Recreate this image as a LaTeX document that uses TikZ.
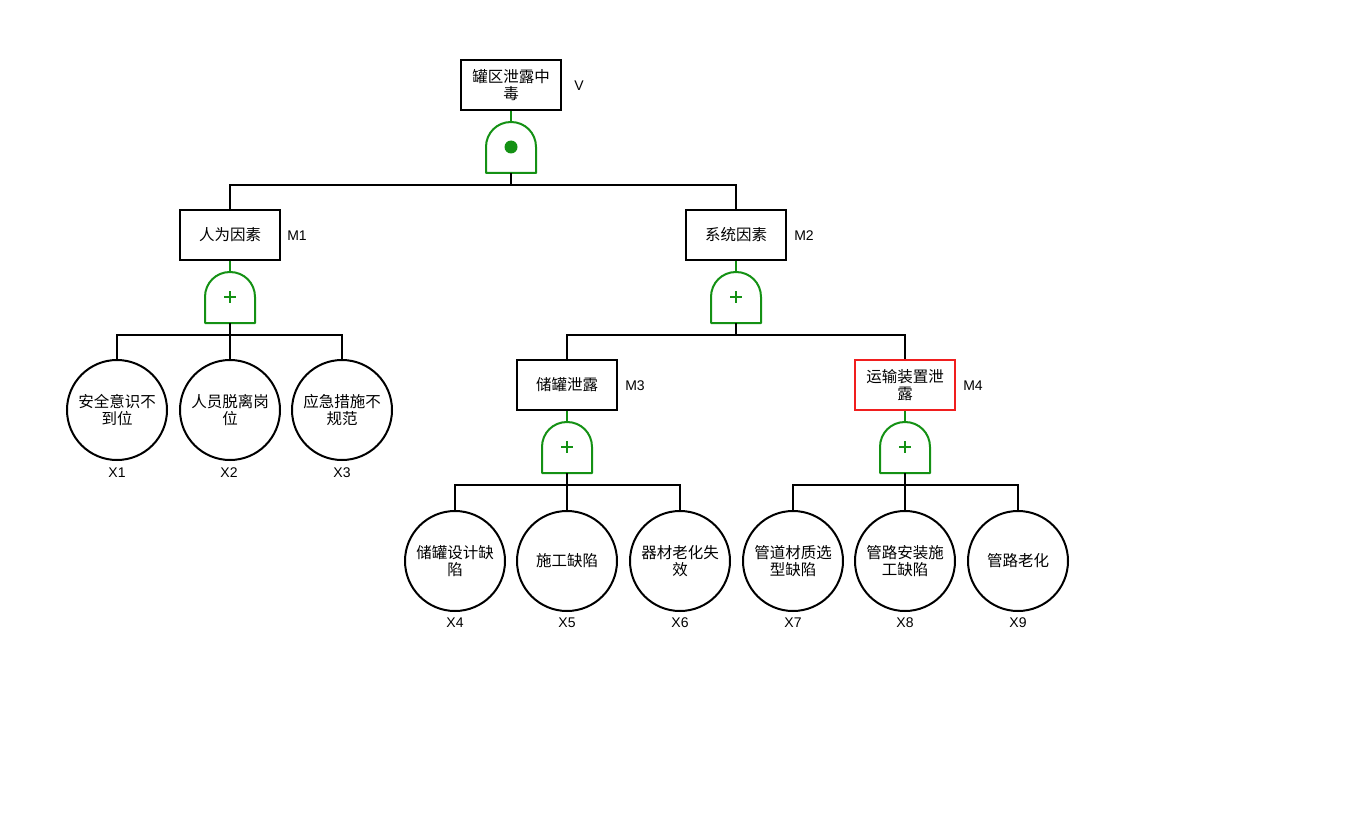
\documentclass[tikz,border=0pt]{standalone}
\usepackage{fontspec}
\setmainfont{Liberation Sans}
\newfontfamily\cjk{Noto Sans CJK SC}
\definecolor{gatec}{RGB}{20,145,20}
\definecolor{boxred}{RGB}{240,30,30}
\tikzset{
  evt/.style={draw=black, line width=2pt, fill=white, minimum width=100pt, minimum height=50pt,
    inner sep=0pt, text width=94pt, align=center, font=\cjk\fontsize{15.5}{17}\selectfont},
  basic/.style={circle, draw=black, line width=2pt, fill=white, minimum size=100pt,
    inner sep=0pt, text width=86pt, align=center, font=\cjk\fontsize{15.5}{17}\selectfont},
  lbl/.style={font=\fontsize{14}{15}\selectfont, inner sep=0pt},
  wire/.style={line width=2pt, black},
  gl/.style={line width=2pt, gatec},
  gateshape/.pic={
    \draw[gl, line join=round] (-25,26) -- (-25,0) .. controls (-25,-14) and (-14,-25) .. (0,-25)
      .. controls (14,-25) and (25,-14) .. (25,0) -- (25,26) -- cycle;
  },
  orgate/.pic={
    \pic (-g) {gateshape};
    \coordinate (-top) at (0,-25);
    \coordinate (-bot) at (0,26);
    \draw[gl, line width=2.4pt] (-6,0) -- (6,0) (0,-6) -- (0,6);
  },
  andgate/.pic={
    \pic (-g) {gateshape};
    \coordinate (-top) at (0,-25);
    \coordinate (-bot) at (0,26);
    \fill[gatec] (0,0) circle (6.5);
  },
}
\begin{document}
\begin{tikzpicture}[x=1pt,y=-1pt]
\useasboundingbox (0,0) rectangle (1363,824);
% top event
\node[evt] (V) at (511,85) {罐区泄露中\\毒};
\node[lbl] (lV) at (579,86) {V};
\pic (g0) at (511,147) {andgate};
\coordinate (b0) at (511,185);
% level 1
\node[evt] (M1) at (230,235) {人为因素};
\node[lbl] (lM1) at (297,236) {M1};
\node[evt] (M2) at (736,235) {系统因素};
\node[lbl] (lM2) at (804,236) {M2};
\pic (g1) at (230,297) {orgate};
\pic (g2) at (736,297) {orgate};
\coordinate (b1) at (230,335);
\coordinate (b2) at (736,335);
% basic events under M1
\node[basic] (X1) at (117,410) {安全意识不\\到位};
\node[basic] (X2) at (230,410) {人员脱离岗\\位};
\node[basic] (X3) at (342,410) {应急措施不\\规范};
\node[lbl] (lX1) at (117,473) {X1};
\node[lbl] (lX2) at (229,473) {X2};
\node[lbl] (lX3) at (342,473) {X3};
% level 2
\node[evt] (M3) at (567,385) {储罐泄露};
\node[lbl] (lM3) at (635,386) {M3};
\node[evt, draw=boxred] (M4) at (905,385) {运输装置泄\\露};
\node[lbl] (lM4) at (973,386) {M4};
\pic (g3) at (567,447) {orgate};
\pic (g4) at (905,447) {orgate};
\coordinate (b3) at (567,485);
\coordinate (b4) at (905,485);
% basic events
\node[basic] (X4) at (455,561) {储罐设计缺\\陷};
\node[basic] (X5) at (567,561) {施工缺陷};
\node[basic] (X6) at (680,561) {器材老化失\\效};
\node[basic] (X7) at (793,561) {管道材质选\\型缺陷};
\node[basic] (X8) at (905,561) {管路安装施\\工缺陷};
\node[basic] (X9) at (1018,561) {管路老化};
\node[lbl] (lX4) at (455,623) {X4};
\node[lbl] (lX5) at (567,623) {X5};
\node[lbl] (lX6) at (680,623) {X6};
\node[lbl] (lX7) at (793,623) {X7};
\node[lbl] (lX8) at (905,623) {X8};
\node[lbl] (lX9) at (1018,623) {X9};
% connectors
\draw[gl] (V.south) -- (g0-top);
\draw[wire] (g0-bot) -- (b0);
\draw[wire] (M1.north) |- (b0) -| (M2.north);
\draw[gl] (M1.south) -- (g1-top);
\draw[wire] (g1-bot) -- (b1);
\draw[wire] (X1.north) |- (b1) -| (X3.north);
\draw[wire] (b1) -- (X2.north);
\draw[gl] (M2.south) -- (g2-top);
\draw[wire] (g2-bot) -- (b2);
\draw[wire] (M3.north) |- (b2) -| (M4.north);
\draw[gl] (M3.south) -- (g3-top);
\draw[wire] (g3-bot) -- (b3);
\draw[wire] (X4.north) |- (b3) -| (X6.north);
\draw[wire] (b3) -- (X5.north);
\draw[gl] (M4.south) -- (g4-top);
\draw[wire] (g4-bot) -- (b4);
\draw[wire] (X7.north) |- (b4) -| (X9.north);
\draw[wire] (b4) -- (X8.north);
\end{tikzpicture}
\end{document}
